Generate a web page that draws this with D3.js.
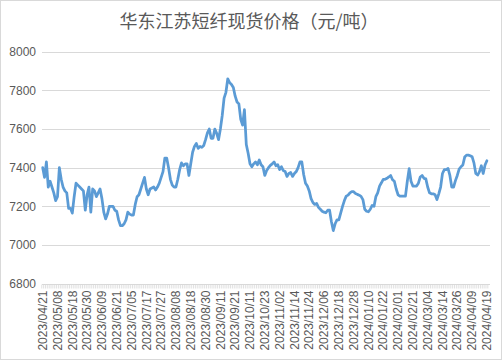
<!DOCTYPE html>
<html>
<head>
<meta charset="utf-8">
<script src="https://cdn.jsdelivr.net/npm/d3@7"></script>
<style>
  html, body { margin: 0; padding: 0; background: #fff; }
  svg { display: block; }
</style>
</head>
<body>
<svg id="chart"></svg>
<script>
const title = '华东江苏短纤现货价格（元/吨）';

// one label every 8 trading days
const tickLabels = [
  '2023/04/21', '2023/05/08', '2023/05/18', '2023/05/30', '2023/06/09', '2023/06/21',
  '2023/07/05', '2023/07/17', '2023/07/27', '2023/08/08', '2023/08/18', '2023/08/30',
  '2023/09/11', '2023/09/21', '2023/10/11', '2023/10/23', '2023/11/02', '2023/11/14',
  '2023/11/24', '2023/12/06', '2023/12/18', '2023/12/28', '2024/01/10', '2024/01/22',
  '2024/02/01', '2024/02/21', '2024/03/04', '2024/03/14', '2024/03/26', '2024/04/09',
  '2024/04/19'
];
const labelStep = 8;

const yTicks = [6800, 7000, 7200, 7400, 7600, 7800, 8000];

// daily spot price
const prices = [
  7400, 7350, 7430, 7300, 7330, 7300, 7270, 7230, 7250, 7400,
  7340, 7300, 7280, 7270, 7190, 7190, 7165, 7250, 7320, 7310,
  7300, 7290, 7280, 7180, 7260, 7300, 7170, 7290, 7280, 7250,
  7270, 7290, 7240, 7170, 7135, 7160, 7200, 7200, 7200, 7180,
  7175, 7130, 7100, 7100, 7110, 7130, 7170, 7160, 7155, 7155,
  7210, 7250, 7260, 7290, 7320, 7350, 7290, 7260, 7290, 7295,
  7300, 7285, 7300, 7320, 7350, 7380, 7450, 7450, 7400, 7340,
  7310, 7300, 7300, 7340, 7390, 7425, 7410, 7420, 7420, 7360,
  7420, 7480, 7510, 7525, 7500, 7510, 7505, 7515, 7545, 7580,
  7600, 7552, 7552, 7600, 7578, 7545, 7600, 7670, 7760, 7790,
  7860, 7840, 7830, 7815, 7770, 7740, 7730, 7650, 7620, 7700,
  7520, 7475, 7420, 7405, 7420, 7430, 7415, 7440, 7415, 7405,
  7360, 7385, 7400, 7412, 7420, 7430, 7410, 7415, 7390, 7405,
  7385, 7380, 7355, 7370, 7375, 7355, 7370, 7380, 7400, 7430,
  7430, 7365, 7320, 7305, 7280, 7240, 7220, 7210, 7215, 7195,
  7185, 7175, 7170, 7167, 7180, 7180, 7120, 7075, 7110, 7130,
  7130, 7165, 7200, 7230, 7253, 7258, 7270, 7276, 7276, 7267,
  7262, 7258, 7252, 7235, 7185, 7175, 7172, 7185, 7205, 7200,
  7250, 7270, 7305, 7322, 7340, 7340, 7345, 7352, 7360, 7338,
  7330, 7290, 7260, 7253, 7253, 7253, 7253, 7330, 7395, 7330,
  7305, 7305, 7305, 7320, 7352, 7360, 7345, 7342, 7300, 7270,
  7265, 7265, 7260, 7235, 7265, 7300, 7370, 7390, 7390, 7396,
  7360, 7300, 7300, 7333, 7360, 7393, 7405, 7414, 7455, 7465,
  7465, 7462, 7457, 7425, 7370, 7362, 7380, 7410, 7370, 7414,
  7436
];

const width = 504;
const height = 362;
const plot = { left: 42, right: 490, top: 51.7, bottom: 283.7 };

const svg = d3.select('#chart')
  .attr('width', width)
  .attr('height', height);

// chart area border
svg.append('rect')
  .attr('x', 0.5).attr('y', 0.5)
  .attr('width', 501).attr('height', 359)
  .attr('fill', '#fff')
  .attr('stroke', '#d9d9d9');

svg.append('text')
  .attr('x', 249)
  .attr('y', 28)
  .attr('text-anchor', 'middle')
  .attr('font-family', '"Noto Sans CJK SC", sans-serif')
  .attr('font-size', 18)
  .attr('fill', '#595959')
  .text(title);

const x = d3.scalePoint()
  .domain(d3.range(prices.length))
  .range([plot.left + 0.7, plot.right - 3.1]);

const y = d3.scaleLinear()
  .domain([6800, 8000])
  .range([plot.bottom, plot.top]);

// horizontal gridlines
svg.append('g')
  .selectAll('line')
  .data(yTicks.slice(1))
  .enter()
  .append('line')
  .attr('x1', plot.left)
  .attr('x2', plot.right)
  .attr('y1', (d) => Math.round(y(d)) + 0.5)
  .attr('y2', (d) => Math.round(y(d)) + 0.5)
  .attr('stroke', '#d9d9d9')
  .attr('stroke-width', 1);

// y axis labels
const yAxis = svg.append('g')
  .attr('transform', `translate(${plot.left - 6},0)`)
  .call(d3.axisLeft(y).tickValues(yTicks).tickFormat(d3.format('d')).tickSize(0).tickPadding(0));
yAxis.select('.domain').remove();
yAxis.selectAll('text')
  .attr('font-family', '"Liberation Sans", Arial, sans-serif')
  .attr('font-size', 12)
  .attr('fill', '#595959');

// category axis with a tick per day
const step = x.step();
const axisY = Math.round(y(6800)) + 0.5;
svg.append('line')
  .attr('x1', plot.left).attr('x2', plot.right)
  .attr('y1', axisY).attr('y2', axisY)
  .attr('stroke', '#d9d9d9');

svg.append('g')
  .selectAll('line')
  .data(d3.range(prices.length + 1))
  .enter()
  .append('line')
  .attr('x1', (i) => x(0) - step / 2 + i * step)
  .attr('x2', (i) => x(0) - step / 2 + i * step)
  .attr('y1', axisY)
  .attr('y2', axisY + 4)
  .attr('stroke', '#d9d9d9')
  .attr('stroke-width', 0.8);

svg.append('g')
  .selectAll('text')
  .data(tickLabels)
  .enter()
  .append('text')
  .attr('transform', (d, i) => `translate(${x(i * labelStep)},${axisY + 6}) rotate(-90)`)
  .attr('text-anchor', 'end')
  .attr('dy', '0.35em')
  .attr('font-family', '"Liberation Sans", Arial, sans-serif')
  .attr('font-size', 12)
  .attr('fill', '#595959')
  .text((d) => d);

// price line
const line = d3.line()
  .x((d, i) => x(i))
  .y((d) => y(d));

svg.append('path')
  .datum(prices)
  .attr('d', line)
  .attr('fill', 'none')
  .attr('stroke', '#5b9bd5')
  .attr('stroke-width', 2.75)
  .attr('stroke-linejoin', 'round')
  .attr('stroke-linecap', 'round');
</script>
</body>
</html>
